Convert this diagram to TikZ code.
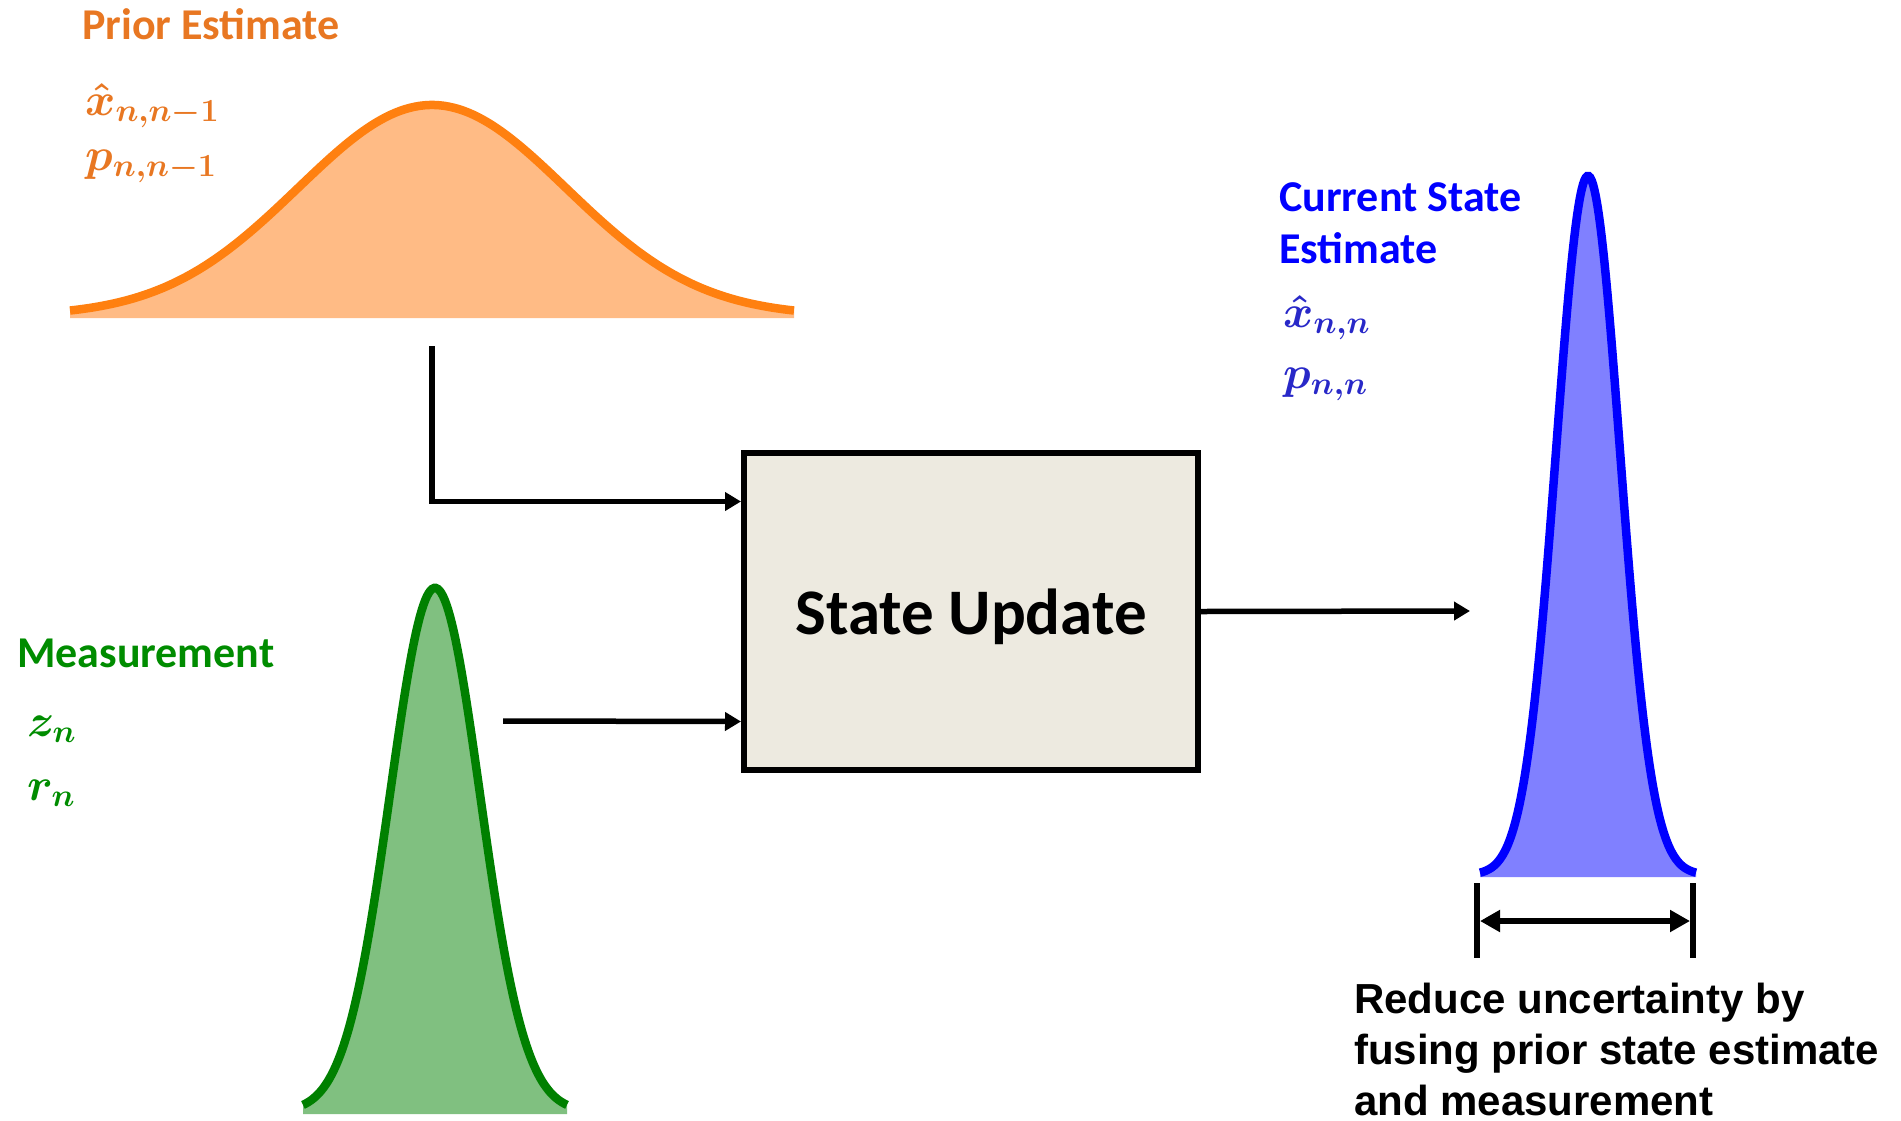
\RequirePackage{fix-cm}
\documentclass[tikz,border=0pt]{standalone}
\usepackage{fontspec}
\usetikzlibrary{arrows.meta,calc}
\newfontfamily\calibri{Carlito}
\newfontfamily\arialfont{Liberation Sans}
\definecolor{orangetxt}{RGB}{232,119,34}
\definecolor{orangeline}{RGB}{255,128,16}
\definecolor{orangefill}{RGB}{255,187,133}
\definecolor{greentxt}{RGB}{0,140,0}
\definecolor{greenline}{RGB}{0,128,0}
\definecolor{greenfill}{RGB}{128,192,128}
\definecolor{bluetxt}{RGB}{0,0,255}
\definecolor{bluemath}{RGB}{40,40,200}
\definecolor{blueline}{RGB}{0,0,255}
\definecolor{bluefill}{RGB}{128,128,255}
\definecolor{boxfill}{RGB}{237,234,224}

% bell curve: centre x, base y, height, sigma, half width, fill colour, line colour
\newcommand\bellcurve[7]{%
  \fill[#6] plot[domain=-#5:#5,samples=150] ({#1+\x},{#2-#3*exp(-0.5*(\x/#4)*(\x/#4))})
        -- ({#1+#5},{#2+2}) -- ({#1-#5},{#2+2}) -- cycle;
  \draw[#7,line width=8.5pt] plot[domain=-#5:#5,samples=150] ({#1+\x},{#2-#3*exp(-0.5*(\x/#4)*(\x/#4))});
}

\begin{document}
\begin{tikzpicture}[x=1pt,y=-1pt,
  title/.style={font=\calibri\bfseries\fontsize{44}{52}\selectfont, anchor=base west, inner sep=0pt},
  mathlbl/.style={font=\fontsize{46}{52}\selectfont\boldmath, anchor=base west, inner sep=0pt},
  caption/.style={font=\arialfont\bfseries\fontsize{42}{51}\selectfont, anchor=base west, inner sep=0pt},
  flow/.style={draw=black, line width=5.5pt, -{Triangle[length=16pt,width=18pt]}},
]
\useasboundingbox (0,0) rectangle (1901,1120);

% distributions
\bellcurve{432}{316}{211}{134}{362}{orangefill}{orangeline}
\bellcurve{435}{1112}{524}{45}{132}{greenfill}{greenline}
\bellcurve{1588}{875}{699}{32}{108}{bluefill}{blueline}

% prior estimate labels
\node[title, text=orangetxt] (priortitle) at (82,39) {Prior Estimate};
\node[mathlbl, text=orangetxt] (xprior) at (85,115) {$\hat{x}_{n,n-1}$};
\node[mathlbl, text=orangetxt] (pprior) at (85,170) {$p_{n,n-1}$};

% measurement labels
\node[title, text=greentxt] (meastitle) at (17,667) {Measurement};
\node[mathlbl, text=greentxt] (zmeas) at (27,736) {$z_n$};
\node[mathlbl, text=greentxt] (rmeas) at (27,800) {$r_n$};

% current estimate labels
\node[title, text=bluetxt] (curtitleA) at (1279,211) {Current State};
\node[title, text=bluetxt] (curtitleB) at (1279,263) {Estimate};
\node[mathlbl, text=bluemath] (xcur) at (1283,327) {$\hat{x}_{n,n}$};
\node[mathlbl, text=bluemath] (pcur) at (1283,388) {$p_{n,n}$};

% update block
\node[draw=black, line width=6pt, fill=boxfill, minimum width=454pt, minimum height=317pt,
      inner sep=0pt, text depth=0pt, font=\calibri\bfseries\fontsize{65}{70}\selectfont]
      (update) at (971,611.5) {State Update};

% connectors
\coordinate (priorout) at (432,346);
\coordinate (measout) at (503,721);
\coordinate (estin) at (1470,611);
\draw[flow] (priorout) |- ([yshift=110pt]update.west);
\draw[flow] (measout) -- ([yshift=-110pt]update.west);
\draw[flow] (update.east) -- (estin);

% spread marker
\coordinate (barLtop) at (1477,883);
\coordinate (barLbot) at (1477,958);
\coordinate (barRtop) at (1693,883);
\coordinate (barRbot) at (1693,958);
\coordinate (spanL) at (1477,921);
\coordinate (spanR) at (1693,921);
\draw[line width=6pt] (barLtop) -- (barLbot);
\draw[line width=6pt] (barRtop) -- (barRbot);
\draw[line width=5.5pt, {Triangle[length=20pt,width=21pt]}-{Triangle[length=20pt,width=21pt]},
      shorten <=3pt, shorten >=3pt] (spanL) -- (spanR);

\node[caption] (capA) at (1354,1013) {Reduce uncertainty by};
\node[caption] (capB) at (1354,1064) {fusing prior state estimate};
\node[caption] (capC) at (1354,1115) {and measurement};
\end{tikzpicture}
\end{document}
